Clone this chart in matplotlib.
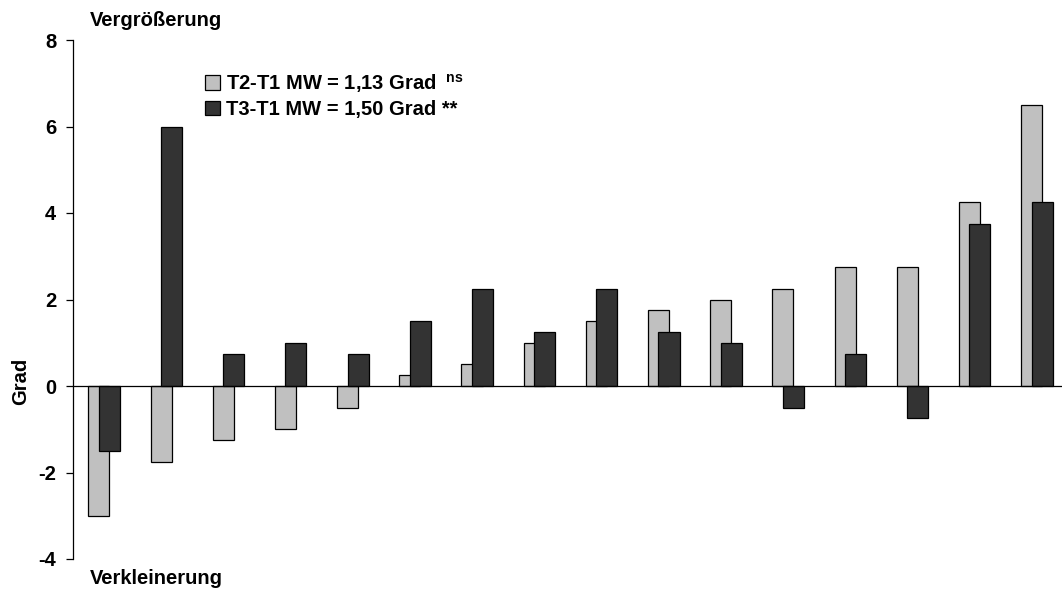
import numpy as np
import matplotlib.pyplot as plt

plt.rcParams['font.family'] = ['Liberation Sans', 'DejaVu Sans']
plt.rcParams['font.weight'] = 'bold'
plt.rcParams['axes.unicode_minus'] = False
plt.rcParams['mathtext.fontset'] = 'custom'
plt.rcParams['mathtext.bf'] = 'Liberation Sans:bold'
plt.rcParams['mathtext.rm'] = 'Liberation Sans:bold'

# Differences per case, sorted by T2-T1
t2_t1 = [-3.0, -1.75, -1.25, -1.0, -0.5, 0.25, 0.5, 1.0, 1.5, 1.75, 2.0, 2.25, 2.75, 2.75, 4.25, 6.5]
t3_t1 = [-1.5, 6.0, 0.75, 1.0, 0.75, 1.5, 2.25, 1.25, 2.25, 1.25, 1.0, -0.5, 0.75, -0.75, 3.75, 4.25]
label_t2 = 'T2-T1 MW = 1,13 Grad $^{\\;\\mathbf{ns}}$'
label_t3 = 'T3-T1 MW = 1,50 Grad **'
y_ticks = [-4, -2, 0, 2, 4, 6, 8]

W, H = 1062, 594
fs = 14.5
fig = plt.figure(figsize=(W / 100, H / 100), dpi=100)
ax = fig.add_axes([73 / W, 1 - 559 / H, 995 / W, 519 / H])

x = np.arange(len(t2_t1))
width = 0.338
off = 0.084
ax.bar(x - off, t2_t1, width, color='#c0c0c0', edgecolor='black', linewidth=0.9,
       label=label_t2, zorder=2)
ax.bar(x + off, t3_t1, width, color='#333333', edgecolor='black', linewidth=0.9,
       label=label_t3, zorder=3)

ax.set_xlim(-0.5, len(x) - 0.5)
ax.set_ylim(-4, 8)
ax.set_yticks(y_ticks)
ax.set_xticks([])
ax.tick_params(axis='y', direction='out', length=5, width=0.9, pad=7, labelsize=fs)
for lab in ax.get_yticklabels():
    lab.set_fontweight('bold')

for s in ['top', 'right']:
    ax.spines[s].set_visible(False)
ax.spines['bottom'].set_position(('data', 0))
ax.spines['left'].set_linewidth(0.9)
ax.spines['bottom'].set_linewidth(0.9)
ax.spines['bottom'].set_zorder(4)

ax.set_ylabel('Grad', fontsize=fs, fontweight='bold')
ax.yaxis.set_label_coords(-43 / 995, (559 - 381) / 519)

fig.text(90 / W, 1 - 20 / H, 'Vergrößerung', fontsize=fs, fontweight='bold', va='center')
fig.text(90 / W, 1 - 578 / H, 'Verkleinerung', fontsize=fs, fontweight='bold', va='center')

leg = ax.legend(loc='upper left', bbox_to_anchor=(205 / W, 1 - 72 / H),
                bbox_transform=fig.transFigure, frameon=False, borderpad=0,
                borderaxespad=0, handlelength=0.75, handleheight=0.75,
                handletextpad=0.3, labelspacing=0.25, prop={'size': fs, 'weight': 'bold'})

fig.savefig('out.png', dpi=100)
